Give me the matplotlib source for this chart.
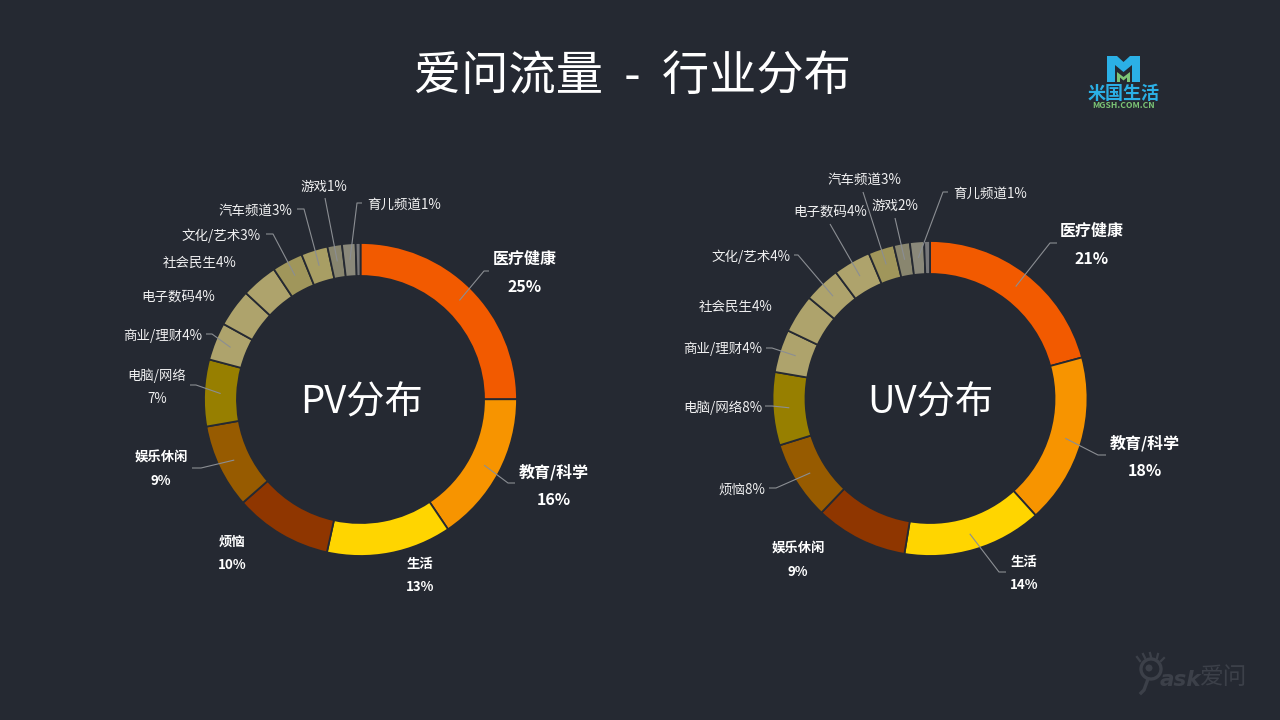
#!/usr/bin/env python3
"""Two donuts: iAsk traffic by industry, PV and UV share."""

import numpy as np
import matplotlib
matplotlib.use('Agg')
import matplotlib.pyplot as plt
from matplotlib.patches import Circle, Polygon

plt.rcParams['font.family'] = ['Noto Sans CJK SC', 'DejaVu Sans']

BG = '#252932'
LEADER = '#8b8e93'

PV_NAMES = ['医疗健康', '教育/科学', '生活', '烦恼', '娱乐休闲', '电脑/网络', '商业/理财',
            '电子数码', '社会民生', '文化/艺术', '汽车频道', '游戏', '育儿频道', '其他']
PV_SHARES = [25, 15.6, 12.9, 10.1, 8.7, 6.9, 3.9, 3.9, 3.75, 3.2, 2.75, 1.5, 1.4, 0.5]
PV_LABELS = ['25%', '16%', '13%', '10%', '9%', '7%', '4%', '4%', '4%', '3%', '3%', '1%', '1%', '']
PV_COLORS = ['#f25a00', '#f79400', '#ffd500', '#8f3600', '#975b00', '#977f00', '#aea36c',
             '#aea36c', '#aea36c', '#a0965b', '#a89e64', '#89866f', '#8a887a', '#77777a']

UV_NAMES = ['医疗健康', '教育/科学', '生活', '娱乐休闲', '烦恼', '电脑/网络', '商业/理财',
            '社会民生', '文化/艺术', '电子数码', '汽车频道', '游戏', '育儿频道', '其他']
UV_SHARES = [20.8, 17.5, 14.3, 9.5, 8.1, 7.5, 4.4, 3.95, 3.75, 3.85, 2.65, 1.65, 1.45, 0.6]
UV_LABELS = ['21%', '18%', '14%', '9%', '8%', '8%', '4%', '4%', '4%', '4%', '3%', '2%', '1%', '']
UV_COLORS = ['#f25a00', '#f79400', '#ffd500', '#8f3600', '#975b00', '#977f00', '#aea36c',
             '#aea36c', '#aea36c', '#aea36c', '#a0965b', '#89866f', '#8a887a', '#77777a']

# leader elbows in pixels, one list per slice (empty = no leader)
PV_LEADERS = [[(484, 271), (489, 271)], [(508, 483), (515, 483)], [], [],
              [(201, 468), (192, 468)], [(196, 385), (190, 385)], [(212, 334), (206, 334)],
              [], [], [(273, 234), (266, 234)], [(304, 209), (297, 209)],
              [(325, 198)], [(357, 203), (362, 203)], []]
UV_LEADERS = [[(1050, 243), (1057, 243)], [(1098, 455), (1106, 455)], [(999, 572), (1006, 572)], [],
              [(776, 488), (769, 488)], [(772, 406), (765, 406)], [(772, 348), (766, 348)],
              [], [(798, 255), (794, 255)], [(830, 224)], [(863, 192)],
              [(895, 218)], [(943, 192), (948, 192)], []]

# text placement: (style, x, y[, y of the second line])
PV_TEXT = [('big', 525, 259, 287), ('big', 554, 472, 500), ('bold', 420, 564, 587),
           ('bold', 232, 542, 565), ('bold', 161, 458, 481), ('two', 157, 376, 399),
           ('right', 202, 336), ('center', 178, 297), ('center', 200, 263),
           ('right', 261, 236), ('right', 292, 211), ('center', 324, 187),
           ('left', 367, 205), None]
UV_TEXT = [('big', 1092, 231, 259), ('big', 1145, 443, 471), ('bold', 1024, 562, 585),
           ('bold', 798, 549, 572), ('right', 765, 490), ('right', 762, 408),
           ('right', 762, 349), ('center', 736, 307), ('right', 790, 257),
           ('center', 830, 212), ('center', 864, 180), ('center', 895, 206),
           ('left', 953, 194), None]


def draw_donut(fig, over, cx, cy, r_out, r_in, names, shares, values, colors, leaders, texts):
    ax = fig.add_axes([(cx - r_out) / 1280, 1 - (cy + r_out) / 720,
                       2 * r_out / 1280, 2 * r_out / 720])
    ax.pie(shares, colors=colors, startangle=90, counterclock=False, radius=1,
           wedgeprops={'width': (r_out - r_in) / r_out, 'edgecolor': BG, 'linewidth': 1.3})
    ax.set_xlim(-1, 1)
    ax.set_ylim(-1, 1)
    ax.axis('off')

    ends = np.cumsum(shares) / np.sum(shares) * 2 * np.pi
    mids = ends - np.array(shares) / np.sum(shares) * np.pi
    r_mid = (r_out + r_in) / 2
    for i, name in enumerate(names):
        if leaders[i]:
            pts = [(cx + r_mid * np.sin(mids[i]), cy - r_mid * np.cos(mids[i]))] + leaders[i]
            over.plot(*zip(*pts), color=LEADER, linewidth=0.8, solid_capstyle='butt')
        if texts[i] is None:
            continue
        style, x, y, *rest = texts[i]
        if style in ('big', 'bold', 'two'):
            size = 11.5 if style == 'big' else 9.6
            weight = 'normal' if style == 'two' else 'bold'
            color = '#f0f0f1' if style == 'two' else 'white'
            over.text(x, y, name, ha='center', va='center', fontsize=size,
                      fontweight=weight, color=color)
            over.text(x, rest[0], values[i], ha='center', va='center', fontsize=size,
                      fontweight=weight, color=color)
        else:
            over.text(x, y, name + values[i], ha=style, va='center', fontsize=9.7,
                      color='#f0f0f1')


def draw_logo(over):
    blue = '#2bb0e6'
    green = '#7cc576'
    over.add_patch(Polygon([(1107, 56), (1117, 56), (1123.5, 62), (1130, 56), (1140, 56),
                            (1140, 82), (1132, 82), (1132, 65), (1123.5, 72), (1115, 65),
                            (1115, 82), (1107, 82)], color=blue, lw=0))
    over.add_patch(Polygon([(1117, 72), (1123.5, 77), (1130, 72), (1130, 82), (1127, 82),
                            (1127, 77.5), (1123.5, 80.5), (1120, 77.5), (1120, 82), (1117, 82)],
                           color=green, lw=0))
    over.text(1124, 93.5, '米国生活', ha='center', va='center', fontsize=13, fontweight='bold',
              color=blue)
    over.text(1123.5, 105, 'MGSH.COM.CN', ha='center', va='center', fontsize=6.2,
              fontweight='bold', color=green)


def draw_watermark(over):
    mark = '#3c4049'
    over.add_patch(Circle((1151, 669), 10, facecolor='none', edgecolor=mark, linewidth=2.4))
    over.add_patch(Circle((1149, 668), 3.5, color=mark, lw=0))
    over.plot([1148, 1144, 1141], [679, 690, 693], color=mark, linewidth=2.4)
    for x0, y0, x1, y1 in [(1140, 661, 1137, 657), (1145, 658, 1143, 654),
                           (1151, 657, 1150, 653), (1157, 658, 1158, 654),
                           (1161, 661, 1164, 658)]:
        over.plot([x0, x1], [y0, y1], color=mark, linewidth=1.6)
    over.text(1160, 680, 'ask', ha='left', va='center', fontsize=15.5, fontstyle='italic',
              fontweight='bold', family='DejaVu Sans', color=mark)
    over.text(1224, 677, '爱问', ha='center', va='center', fontsize=17, color=mark)


def main():
    fig = plt.figure(figsize=(12.8, 7.2), dpi=100, facecolor=BG)
    over = fig.add_axes([0, 0, 1, 1], zorder=5)
    over.set_xlim(0, 1280)
    over.set_ylim(720, 0)
    over.axis('off')

    draw_donut(fig, over, 360.5, 399.5, 156.5, 123.5, PV_NAMES, PV_SHARES, PV_LABELS,
               PV_COLORS, PV_LEADERS, PV_TEXT)
    draw_donut(fig, over, 930, 398.5, 157.5, 124.5, UV_NAMES, UV_SHARES, UV_LABELS,
               UV_COLORS, UV_LEADERS, UV_TEXT)

    over.text(632, 77, '爱问流量  -  行业分布', ha='center', va='center', fontsize=34, color='white')
    over.text(361, 403, 'PV分布', ha='center', va='center', fontsize=27.5, color='white')
    over.text(930, 403, 'UV分布', ha='center', va='center', fontsize=27.5, color='white')

    draw_logo(over)
    draw_watermark(over)
    fig.savefig('out.png', dpi=100, facecolor=BG)
    plt.close(fig)


if __name__ == '__main__':
    main()
